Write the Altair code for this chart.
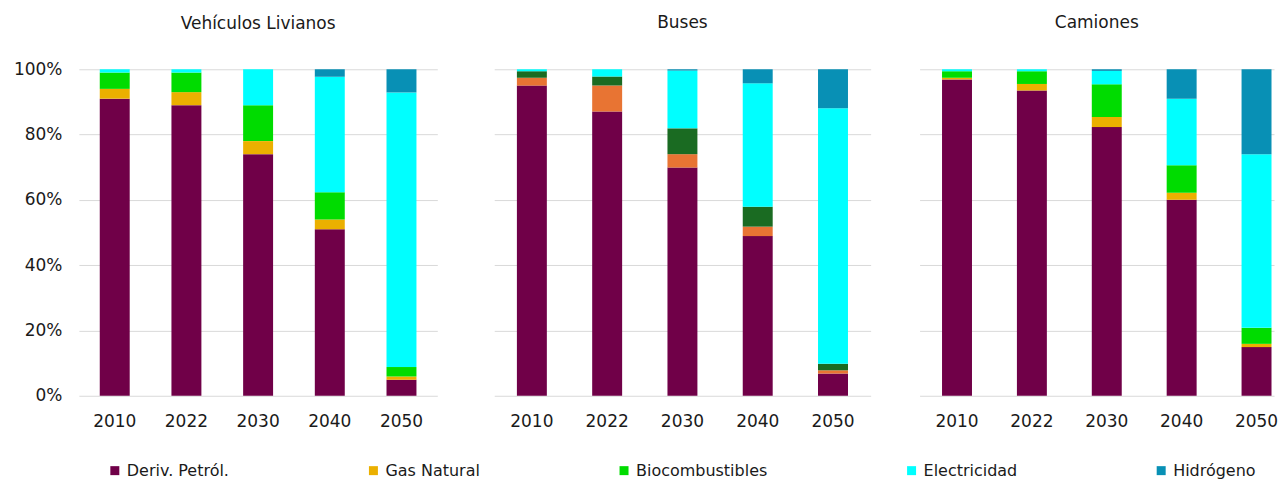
import altair as alt
import pandas as pd

anios = ["2010", "2022", "2030", "2040", "2050"]
fuentes = ["Deriv. Petról.", "Gas Natural", "Biocombustibles", "Electricidad", "Hidrógeno"]
colores = ["#700048", "#EBB000", "#00DC00", "#00FFFF", "#0890B5"]
# Buses panel uses different shades for gas and biofuels
claves_buses = ["Deriv. Petról.", "Gas Natural (Buses)", "Biocombustibles (Buses)", "Electricidad", "Hidrógeno"]
colores_buses_extra = ["#E87433", "#1A6B22"]

# values (%) per series, in order of anios
livianos_deriv = [91.0, 89.0, 74.0, 51.0, 4.9]
livianos_gas = [3.0, 4.0, 4.0, 3.0, 1.0]
livianos_bio = [5.0, 6.0, 11.0, 8.3, 2.9]
livianos_elec = [1.0, 1.0, 11.0, 35.4, 84.1]
livianos_h2 = [0.0, 0.0, 0.0, 2.3, 7.1]

buses_deriv = [95.0, 87.1, 69.9, 48.9, 6.8]
buses_gas = [2.4, 7.9, 4.1, 2.9, 1.0]
buses_bio = [2.0, 2.8, 7.9, 6.1, 2.0]
buses_elec = [0.6, 2.2, 17.7, 37.8, 78.3]
buses_h2 = [0.0, 0.0, 0.4, 4.3, 11.9]

camiones_deriv = [96.9, 93.5, 82.3, 60.0, 14.9]
camiones_gas = [0.5, 2.0, 3.1, 2.2, 1.0]
camiones_bio = [2.0, 3.9, 10.0, 8.4, 4.9]
camiones_elec = [0.6, 0.6, 4.1, 20.4, 53.2]
camiones_h2 = [0.0, 0.0, 0.5, 9.0, 26.0]

paneles = ["Vehículos Livianos", "Buses", "Camiones"]

FONT = "DejaVu Sans"
TXT = "#1a1a1a"
GRID = "#D9D9D9"


def build_df(series, claves):
    rows = []
    for orden, (clave, vals) in enumerate(zip(claves, series)):
        for anio, v in zip(anios, vals):
            rows.append({"anio": anio, "serie": clave, "orden": orden, "valor": v})
    return pd.DataFrame(rows)


df_liv = build_df([livianos_deriv, livianos_gas, livianos_bio, livianos_elec, livianos_h2], fuentes)
df_bus = build_df([buses_deriv, buses_gas, buses_bio, buses_elec, buses_h2], claves_buses)
df_cam = build_df([camiones_deriv, camiones_gas, camiones_bio, camiones_elec, camiones_h2], fuentes)

color_domain = fuentes + ["Gas Natural (Buses)", "Biocombustibles (Buses)"]
color_range = colores + colores_buses_extra

color_enc = alt.Color(
    "serie:N",
    scale=alt.Scale(domain=color_domain, range=color_range),
    legend=alt.Legend(
        values=fuentes,
        orient="none",
        legendX=28,
        legendY=394,
        direction="horizontal",
        columns=5,
        columnPadding=136,
        title=None,
        symbolType="square",
        symbolSize=81,
        symbolStrokeWidth=0,
        labelFont=FONT,
        labelFontSize=16,
        labelColor=TXT,
        labelOffset=4,
    ),
)


def panel(df, titulo, width, height, show_labels, xscale, title_offset):
    yaxis = alt.Axis(
        values=[0, 20, 40, 60, 80, 100],
        labelExpr="datum.value + '%'",
        labels=show_labels,
        ticks=False,
        tickSize=0,
        domain=False,
        grid=True,
        gridColor=GRID,
        gridWidth=1,
        labelFont=FONT,
        labelFontSize=17,
        labelColor=TXT,
        labelPadding=17,
        title=None,
    )
    xaxis = alt.Axis(
        labelAngle=0,
        ticks=False,
        tickSize=0,
        domain=False,
        labelFont=FONT,
        labelFontSize=17,
        labelColor=TXT,
        labelPadding=18,
        title=None,
    )
    return (
        alt.Chart(df)
        .mark_bar(size=30)
        .encode(
            x=alt.X("anio:N", sort=anios, axis=xaxis, scale=xscale),
            y=alt.Y("valor:Q", stack="zero", axis=yaxis,
                    scale=alt.Scale(domain=[0, 100], nice=False)),
            color=color_enc,
            order=alt.Order("orden:Q", sort="ascending"),
        )
        .properties(
            width=width,
            height=height,
            title=alt.TitleParams(
                titulo, font=FONT, fontSize=17, fontWeight="normal",
                color=TXT, offset=title_offset, frame="group", anchor="middle",
            ),
        )
    )


sc_eq = alt.Scale(paddingInner=0.6, paddingOuter=0.3)
sc_cam = alt.Scale(paddingInner=0.6, paddingOuter=0.1667, align=0.9)

p1 = panel(df_liv, paneles[0], 359, 327, True, sc_eq, 27)
p2 = panel(df_bus, paneles[1], 377, 327, False, sc_eq, 37)
p3 = panel(df_cam, paneles[2], 355, 327, False, sc_cam, 37)

chart = (
    alt.hconcat(p1, alt.hconcat(p2, p3, spacing=49), spacing=57)
    .resolve_scale(color="shared")
    .configure(background="white", padding={"left": 5, "top": 5, "right": 0, "bottom": 0})
    .configure_view(stroke=None)
)

chart.save("out.html", embed_options={"renderer": "svg", "actions": False})
